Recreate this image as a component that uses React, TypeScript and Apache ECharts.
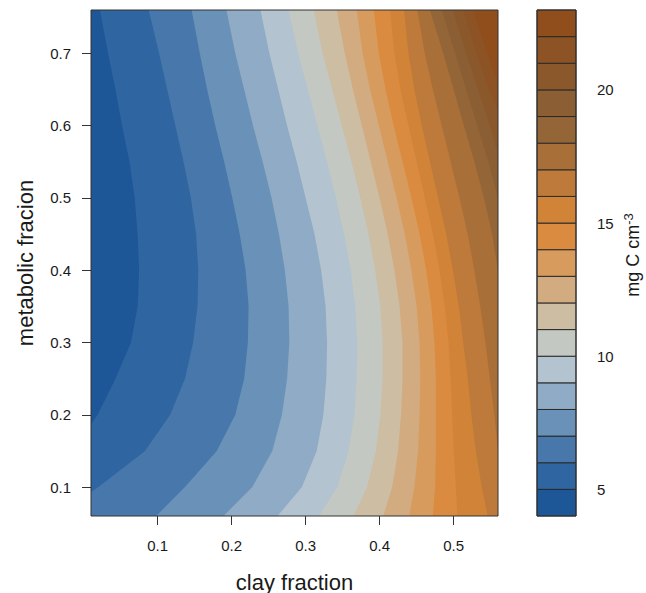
import { useEffect, useRef } from "react";
import * as echarts from "echarts";

// axis ranges of the original plot
const CLAY_MIN = 0.01;
const CLAY_MAX = 0.56;
const MET_MIN = 0.06;
const MET_MAX = 0.76;

const xTickValues = [0.1, 0.2, 0.3, 0.4, 0.5];
const yTickValues = [0.1, 0.2, 0.3, 0.4, 0.5, 0.6, 0.7];
const keyTickValues = [5, 10, 15, 20];

// contour levels (mg C cm-3) and the fill colour of each band [level i, level i+1]
const levels = [4, 5, 6, 7, 8, 9, 10, 11, 12, 13, 14, 15, 16, 17, 18, 19, 20, 21, 22, 23];
const bandColors = [
  "#1d5797", "#2f65a0", "#4878ab", "#6a92b8", "#8fabc5", "#b3c3cf", "#c4c8c2",
  "#ccbda3", "#d3ab80", "#d89b5e", "#db8b3f", "#d18438", "#bd7a3a", "#a86f39",
  "#946536", "#8b5e33", "#8b582b", "#8d5324", "#8f4e1c",
];

// metabolic-fraction positions at which the contour lines were read
const metSamples = [0.06, 0.1, 0.15, 0.2, 0.25, 0.3, 0.35, 0.4, 0.45, 0.5, 0.55, 0.6, 0.65, 0.7, 0.76];

// contour lines: [clay fraction, metabolic fraction]
const contour5 = [
  [0.01, 0.187], [0.019, 0.2], [0.043, 0.25], [0.064, 0.3], [0.073, 0.35], [0.075, 0.4],
  [0.073, 0.45], [0.069, 0.5], [0.062, 0.55], [0.052, 0.6], [0.043, 0.65], [0.033, 0.7], [0.022, 0.76],
];
const contour6 = [
  [0.01, 0.093], [0.02, 0.1], [0.045, 0.12], [0.083, 0.15], [0.117, 0.2], [0.137, 0.25], [0.148, 0.3],
  [0.154, 0.35], [0.155, 0.4], [0.152, 0.45], [0.145, 0.5], [0.135, 0.55], [0.124, 0.6], [0.113, 0.65],
  [0.102, 0.7], [0.088, 0.76],
];
// clay fraction of contours 7..16 at each metSamples value
const contour7Clay = [0.098, 0.137, 0.18, 0.205, 0.217, 0.222, 0.223, 0.219, 0.211, 0.201, 0.19, 0.178, 0.167, 0.157, 0.146];
const contour8Clay = [0.189, 0.228, 0.255, 0.268, 0.275, 0.278, 0.277, 0.272, 0.264, 0.254, 0.242, 0.229, 0.217, 0.205, 0.193];
const contour9Clay = [0.262, 0.295, 0.315, 0.324, 0.328, 0.329, 0.327, 0.321, 0.312, 0.3, 0.288, 0.275, 0.263, 0.251, 0.239];
const contour10Clay = [0.318, 0.343, 0.358, 0.366, 0.369, 0.37, 0.367, 0.361, 0.352, 0.341, 0.329, 0.316, 0.303, 0.29, 0.277];
const contour11Clay = [0.365, 0.383, 0.395, 0.401, 0.404, 0.404, 0.401, 0.394, 0.385, 0.374, 0.362, 0.349, 0.336, 0.323, 0.311];
const contour12Clay = [0.405, 0.417, 0.425, 0.429, 0.431, 0.431, 0.427, 0.42, 0.411, 0.4, 0.388, 0.376, 0.364, 0.353, 0.342];
const contour13Clay = [0.44, 0.447, 0.452, 0.454, 0.455, 0.454, 0.45, 0.443, 0.434, 0.423, 0.411, 0.399, 0.387, 0.377, 0.369];
const contour14Clay = [0.472, 0.475, 0.476, 0.476, 0.476, 0.474, 0.47, 0.463, 0.454, 0.443, 0.431, 0.419, 0.408, 0.399, 0.392];
const contour15Clay = [0.505, 0.503, 0.5, 0.498, 0.496, 0.493, 0.488, 0.481, 0.472, 0.461, 0.45, 0.439, 0.428, 0.42, 0.414];
const contour16Clay = [0.546, 0.538, 0.53, 0.524, 0.519, 0.513, 0.507, 0.499, 0.49, 0.479, 0.468, 0.457, 0.447, 0.439, 0.433];
const contour17 = [
  [0.56, 0.15], [0.555, 0.2], [0.549, 0.25], [0.543, 0.3], [0.536, 0.35], [0.528, 0.4], [0.519, 0.45],
  [0.508, 0.5], [0.496, 0.55], [0.484, 0.6], [0.472, 0.65], [0.461, 0.7], [0.451, 0.76],
];
const contour18 = [[0.56, 0.4], [0.552, 0.45], [0.541, 0.5], [0.528, 0.55], [0.514, 0.6], [0.5, 0.65], [0.486, 0.7], [0.468, 0.76]];
const contour19 = [[0.56, 0.5], [0.547, 0.55], [0.532, 0.6], [0.517, 0.65], [0.502, 0.7], [0.484, 0.76]];
const contour20 = [[0.56, 0.56], [0.549, 0.6], [0.533, 0.65], [0.517, 0.7], [0.499, 0.76]];
const contour21 = [[0.56, 0.62], [0.548, 0.65], [0.531, 0.7], [0.513, 0.76]];
const contour22 = [[0.56, 0.66], [0.545, 0.7], [0.527, 0.76]];

const contourLevels = [5, 6, 7, 8, 9, 10, 11, 12, 13, 14, 15, 16, 17, 18, 19, 20, 21, 22];

const withMet = (clay: number[]) => clay.map((c, i) => [c, metSamples[i]]);
const contours: number[][][] = [
  contour5, contour6,
  withMet(contour7Clay), withMet(contour8Clay), withMet(contour9Clay), withMet(contour10Clay),
  withMet(contour11Clay), withMet(contour12Clay), withMet(contour13Clay), withMet(contour14Clay),
  withMet(contour15Clay), withMet(contour16Clay),
  contour17, contour18, contour19, contour20, contour21, contour22,
];

const FONT = "'Liberation Sans', Arial, Helvetica, sans-serif";
const TEXT = "#1a1a1a";

// layout (pixels)
const PLOT = { left: 91, top: 10, width: 407, height: 506 };
const KEY = { left: 537, top: 10, width: 39, height: 506 };

export default function App() {
  const ref = useRef<HTMLDivElement>(null);

  useEffect(() => {
    if (!ref.current) return;
    const chart = echarts.init(ref.current, undefined, { renderer: "svg" });

    const mainData = [levels[0], ...contourLevels].map((l) => [CLAY_MIN, MET_MIN, l]);
    const keyData = levels.slice(0, -1).map((lo, i) => [0, lo, levels[i + 1], i]);

    const option: any = {
      animation: false,
      backgroundColor: "#ffffff",
      grid: [
        { left: PLOT.left, top: PLOT.top, width: PLOT.width, height: PLOT.height },
        { left: KEY.left, top: KEY.top, width: KEY.width, height: KEY.height },
      ],
      xAxis: [
        {
          type: "value",
          gridIndex: 0,
          min: CLAY_MIN,
          max: CLAY_MAX,
          splitLine: { show: false },
          axisLine: { show: false },
          axisTick: { show: true, customValues: xTickValues, length: 9, lineStyle: { color: "#333", width: 1 } },
          axisLabel: {
            customValues: xTickValues,
            margin: 22,
            fontSize: 15,
            fontFamily: FONT,
            color: TEXT,
            formatter: (v: number) => v.toFixed(1),
          },
        },
        { type: "value", gridIndex: 1, min: 0, max: 1, show: false },
      ],
      yAxis: [
        {
          type: "value",
          gridIndex: 0,
          min: MET_MIN,
          max: MET_MAX,
          splitLine: { show: false },
          axisLine: { show: false },
          axisTick: { show: true, customValues: yTickValues, length: 9, lineStyle: { color: "#333", width: 1 } },
          axisLabel: {
            customValues: yTickValues,
            margin: 20,
            fontSize: 15,
            fontFamily: FONT,
            color: TEXT,
            formatter: (v: number) => v.toFixed(1),
          },
        },
        {
          type: "value",
          gridIndex: 1,
          position: "right",
          min: levels[0],
          max: levels[levels.length - 1],
          splitLine: { show: false },
          axisLine: { show: false },
          axisTick: { show: true, customValues: keyTickValues, length: 10, lineStyle: { color: "#333", width: 1 } },
          axisLabel: {
            customValues: keyTickValues,
            margin: 21,
            fontSize: 15,
            fontFamily: FONT,
            color: TEXT,
          },
        },
      ],
      series: [
        {
          type: "custom",
          xAxisIndex: 0,
          yAxisIndex: 0,
          silent: true,
          clip: true,
          data: mainData,
          renderItem: (params: any, api: any) => {
            const i = params.dataIndex;
            if (i === 0) {
              const a = api.coord([CLAY_MIN, MET_MAX]);
              const b = api.coord([CLAY_MAX, MET_MIN]);
              return {
                type: "rect",
                shape: { x: a[0], y: a[1], width: b[0] - a[0], height: b[1] - a[1] },
                style: { fill: bandColors[0] },
              };
            }
            const line = contours[i - 1];
            const first = line[0];
            const pts = line.slice();
            pts.push([CLAY_MAX, MET_MAX]);
            if (first[0] < CLAY_MAX - 1e-9) pts.push([CLAY_MAX, MET_MIN]);
            if (first[0] <= CLAY_MIN + 1e-9 && first[1] > MET_MIN + 1e-9) pts.push([CLAY_MIN, MET_MIN]);
            return {
              type: "polygon",
              shape: { points: pts.map((p) => api.coord(p)) },
              style: { fill: bandColors[contourLevels[i - 1] - levels[0]], stroke: null },
            };
          },
        },
        {
          type: "custom",
          xAxisIndex: 1,
          yAxisIndex: 1,
          silent: true,
          data: keyData,
          renderItem: (params: any, api: any) => {
            const item = keyData[params.dataIndex];
            const a = api.coord([0, item[1]]);
            const b = api.coord([1, item[2]]);
            return {
              type: "rect",
              shape: { x: a[0], y: b[1], width: b[0] - a[0], height: a[1] - b[1] },
              style: { fill: bandColors[item[3]], stroke: "#2a2a2a", lineWidth: 1 },
            };
          },
        },
      ],
      graphic: [
        {
          type: "rect",
          z: 100,
          silent: true,
          shape: { x: PLOT.left, y: PLOT.top, width: PLOT.width, height: PLOT.height },
          style: { fill: "none", stroke: "#333", lineWidth: 1 },
        },
        {
          type: "rect",
          z: 100,
          silent: true,
          shape: { x: KEY.left, y: KEY.top, width: KEY.width, height: KEY.height },
          style: { fill: "none", stroke: "#333", lineWidth: 1 },
        },
        {
          type: "text",
          x: PLOT.left + PLOT.width / 2,
          y: 582,
          style: {
            text: "clay fraction",
            fontSize: 22,
            fontFamily: FONT,
            fill: TEXT,
            align: "center",
            verticalAlign: "middle",
          },
        },
        {
          type: "text",
          x: 25,
          y: PLOT.top + PLOT.height / 2,
          rotation: Math.PI / 2,
          style: {
            text: "metabolic fracion",
            fontSize: 22,
            fontFamily: FONT,
            fill: TEXT,
            align: "center",
            verticalAlign: "middle",
          },
        },
        {
          type: "text",
          x: 632,
          y: 255,
          rotation: Math.PI / 2,
          style: {
            text: "{a|mg C cm}{s|-3}",
            fontFamily: FONT,
            fill: TEXT,
            align: "center",
            verticalAlign: "middle",
            rich: {
              a: { fontSize: 18, lineHeight: 20, fontFamily: FONT, fill: TEXT, verticalAlign: "bottom" },
              s: { fontSize: 13, lineHeight: 20, fontFamily: FONT, fill: TEXT, verticalAlign: "bottom", padding: [0, 0, 7, 0] },
            },
          },
        },
      ],
    };

    chart.setOption(option);
    return () => chart.dispose();
  }, []);

  return (
    <div
      ref={ref}
      style={{ position: "fixed", left: 0, top: 0, width: 646, height: 593, background: "#fff" }}
    />
  );
}
